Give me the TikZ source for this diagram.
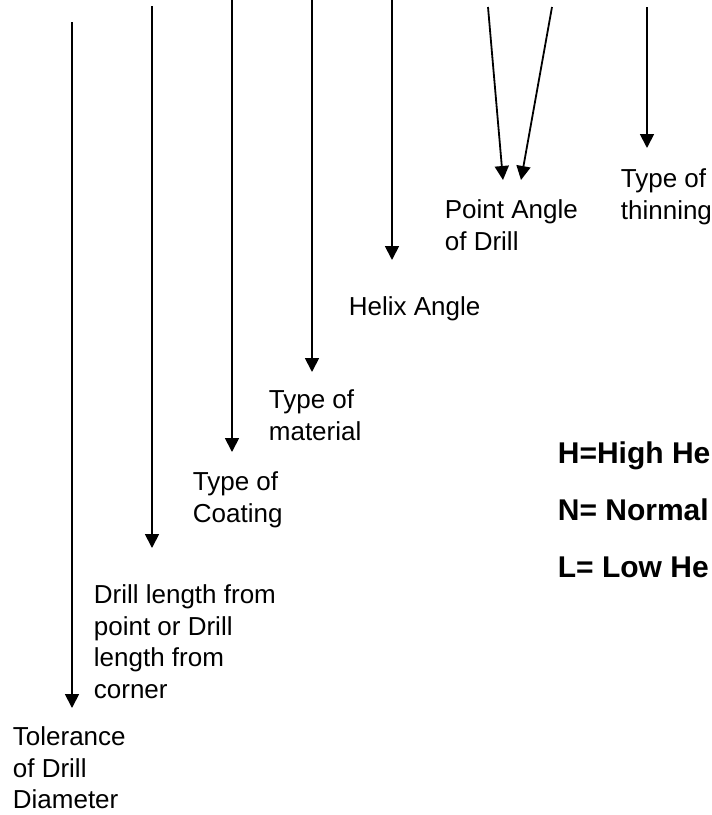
\documentclass[tikz,border=0pt]{standalone}
\usepackage{fontspec}
\setmainfont{Liberation Sans}
\usetikzlibrary{arrows.meta}

\begin{document}
\begin{tikzpicture}[
  x=1pt, y=-1pt,
  >={Triangle[width=14pt,length=14pt]}, line width=1.8pt,
  lbl/.style={anchor=north west, inner sep=0pt, align=left, font=\fontsize{26}{31.5}\selectfont},
  key/.style={anchor=base west, inner sep=0pt, font=\fontsize{30}{36}\selectfont\bfseries}
]
  \useasboundingbox (0,0) rectangle (712,815);
  % start and end points of the arrows
  \coordinate (s1) at (72,22);   \coordinate (e1) at (72,708);
  \coordinate (s2) at (152,6);   \coordinate (e2) at (152,548);
  \coordinate (s3) at (232,0);   \coordinate (e3) at (232,452);
  \coordinate (s4) at (312,0);   \coordinate (e4) at (312,372);
  \coordinate (s5) at (392,0);   \coordinate (e5) at (392,260);
  \coordinate (s6) at (488,7);   \coordinate (e6) at (503,180);
  \coordinate (s7) at (552,7);   \coordinate (e7) at (521,180);
  \coordinate (s8) at (647,7);   \coordinate (e8) at (647,148);
  % labels
  \node[lbl] (thin) at (620,168) {Type of\\thinning};
  \node[lbl] (point) at (444,199) {Point Angle\\of Drill};
  \node[lbl] (helix) at (348,296) {Helix Angle};
  \node[lbl] (mat) at (268,389) {Type of\\material};
  \node[lbl] (coat) at (192,471) {Type of\\Coating};
  \node[lbl] (len) at (93,584) {Drill length from\\point or Drill\\length from\\corner};
  \node[lbl] (tol) at (12,726) {Tolerance\\of Drill\\Diameter};
  \node[key] (kh) at (557,463) {H=High He};
  \node[key] (kn) at (557,520) {N= Normal};
  \node[key] (kl) at (557,577) {L= Low He};
  \draw[->] (s1) -- (e1);
  \draw[->] (s2) -- (e2);
  \draw[->] (s3) -- (e3);
  \draw[->] (s4) -- (e4);
  \draw[->] (s5) -- (e5);
  \draw[->] (s6) -- (e6);
  \draw[->] (s7) -- (e7);
  \draw[->] (s8) -- (e8);
\end{tikzpicture}
\end{document}
